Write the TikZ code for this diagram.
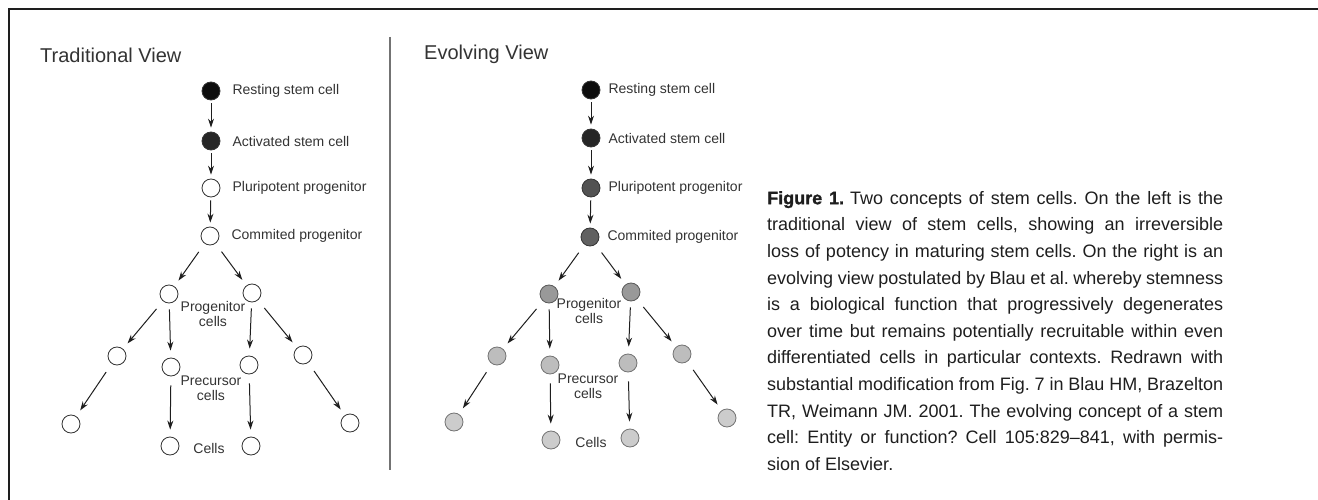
\documentclass[tikz,border=0pt]{standalone}
\usepackage{fontspec}
\setmainfont{Liberation Sans}
\newfontfamily\capbold[FakeBold=1.3]{Liberation Sans}
\usepackage{tikz}
\usetikzlibrary{arrows.meta}
\usetikzlibrary{positioning}
\definecolor{inkgray}{HTML}{333333}
\definecolor{capink}{HTML}{1E1E1E}
\frenchspacing
\newcommand\capspacing{\spaceskip=5pt plus 12pt minus 1.5pt\relax}
\tikzset{
	cellnode/.style = {
		circle,
		inner sep=0pt,
		minimum size=18pt,
		draw=inkgray,
		line width=0.8pt
	},
	node_k/.style = {
		cellnode,
		fill=black!95
	},
	node_d/.style = {
		cellnode,
		fill=black!85
	},
	node_w/.style = {
		cellnode,
		fill=white
	},
	node_g1/.style = {
		cellnode,
		fill=black!68
	},
	node_g2/.style = {
		cellnode,
		fill=black!62
	},
	node_g3/.style = {
		cellnode,
		draw=black!65,
		fill=black!40
	},
	node_g4/.style = {
		cellnode,
		draw=black!55,
		fill=black!26
	},
	node_g5/.style = {
		cellnode,
		draw=black!55,
		fill=black!20
	},
	celltext/.style = {
		inner sep=0pt,
		text=inkgray,
		font=\fontsize{14}{15}\selectfont
	},
	midtext/.style = {
		celltext,
		align=center
	},
	viewtitle/.style = {
		inner sep=0pt,
		anchor=base west,
		text=inkgray,
		font=\fontsize{20}{24}\selectfont
	},
	chainarrow/.style = {
		line width=1pt,
		draw=capink,
		-{Stealth[length=9pt,width=6pt]},
		shorten <=3pt,
		shorten >=4pt
	},
	treearrow/.style = {
		chainarrow,
		shorten <=10pt,
		shorten >=7pt
	},
	captext/.style = {
		inner sep=0pt,
		anchor=north west,
		text width=456pt,
		align=justify,
		text=capink,
		font=\fontsize{18}{26.6}\selectfont
	},
}

\begin{document}
\begin{tikzpicture}[x=1pt, y=-1pt]
\useasboundingbox (0,0) rectangle (1318,500);
% frame and divider
\draw [line width=2.4pt, draw=capink] (1318,9) -- (9,9) -- (9,500);
\draw [line width=1.5pt, draw=black!55] (390,37) -- (390,470);

% traditional view
\node [viewtitle] (l_title) at (40,63) {Traditional View};
\node [node_k] (l_rest) at (211,91) {};
\node [node_d] (l_act) at (211,141) {};
\node [node_w] (l_pluri) at (211,188) {};
\node [node_w] (l_comm) at (210,236) {};
\node [node_w] (l_pa) at (169,294) {};
\node [node_w] (l_pb) at (252,293) {};
\node [node_w] (l_qa) at (117,356) {};
\node [node_w] (l_qb) at (171,367) {};
\node [node_w] (l_qc) at (249,365) {};
\node [node_w] (l_qd) at (303,355) {};
\node [node_w] (l_ca) at (71,424) {};
\node [node_w] (l_cb) at (170,446) {};
\node [node_w] (l_cc) at (251,446) {};
\node [node_w] (l_cd) at (350,423) {};
\node [celltext, right=12pt of l_rest] (l_rest_t) {Resting stem cell};
\node [celltext, right=12pt of l_act] (l_act_t) {Activated stem cell};
\node [celltext, right=12pt of l_pluri] (l_pluri_t) {Pluripotent progenitor};
\node [celltext, right=12pt of l_comm] (l_comm_t) {Commited progenitor};
\node [midtext] (l_prog_t) at (213,314) {Progenitor\\cells};
\node [midtext] (l_prec_t) at (211,388) {Precursor\\cells};
\node [celltext] (l_cells_t) at (209,448) {Cells};
\draw [chainarrow] (l_rest) -- (l_act);
\draw [chainarrow] (l_act) -- (l_pluri);
\draw [chainarrow] (l_pluri) -- (l_comm);
\draw [treearrow] (l_comm) -- (l_pa);
\draw [treearrow] (l_comm) -- (l_pb);
\draw [treearrow] (l_pa) -- (l_qa);
\draw [treearrow, shorten <=6pt] (l_pa) -- (l_qb);
\draw [treearrow, shorten <=6pt] (l_pb) -- (l_qc);
\draw [treearrow] (l_pb) -- (l_qd);
\draw [treearrow] (l_qa) -- (l_ca);
\draw [treearrow, shorten <=9pt] (l_qb) -- (l_cb);
\draw [treearrow, shorten <=9pt] (l_qc) -- (l_cc);
\draw [treearrow] (l_qd) -- (l_cd);

% evolving view
\node [viewtitle] (r_title) at (424,60) {Evolving View};
\node [node_k] (r_rest) at (591,90) {};
\node [node_d] (r_act) at (591,138) {};
\node [node_g1] (r_pluri) at (591,188) {};
\node [node_g2] (r_comm) at (590,237) {};
\node [node_g3] (r_pa) at (549,294) {};
\node [node_g3] (r_pb) at (631,292) {};
\node [node_g4] (r_qa) at (497,356) {};
\node [node_g4] (r_qb) at (550,365) {};
\node [node_g4] (r_qc) at (628,363) {};
\node [node_g4] (r_qd) at (682,354) {};
\node [node_g5] (r_ca) at (454,422) {};
\node [node_g5] (r_cb) at (551,440) {};
\node [node_g5] (r_cc) at (630,438) {};
\node [node_g5] (r_cd) at (727,418) {};
\node [celltext, right=8pt of r_rest] (r_rest_t) {Resting stem cell};
\node [celltext, right=8pt of r_act] (r_act_t) {Activated stem cell};
\node [celltext, right=8pt of r_pluri] (r_pluri_t) {Pluripotent progenitor};
\node [celltext, right=8pt of r_comm] (r_comm_t) {Commited progenitor};
\node [midtext] (r_prog_t) at (589,311) {Progenitor\\cells};
\node [midtext] (r_prec_t) at (588,386) {Precursor\\cells};
\node [celltext] (r_cells_t) at (591,442) {Cells};
\draw [chainarrow] (r_rest) -- (r_act);
\draw [chainarrow] (r_act) -- (r_pluri);
\draw [chainarrow] (r_pluri) -- (r_comm);
\draw [treearrow] (r_comm) -- (r_pa);
\draw [treearrow] (r_comm) -- (r_pb);
\draw [treearrow] (r_pa) -- (r_qa);
\draw [treearrow, shorten <=6pt] (r_pa) -- (r_qb);
\draw [treearrow, shorten <=6pt] (r_pb) -- (r_qc);
\draw [treearrow] (r_pb) -- (r_qd);
\draw [treearrow] (r_qa) -- (r_ca);
\draw [treearrow, shorten <=9pt] (r_qb) -- (r_cb);
\draw [treearrow, shorten <=9pt] (r_qc) -- (r_cc);
\draw [treearrow] (r_qd) -- (r_cd);

% caption
\node [captext] (caption) at (767,191) {\frenchspacing\capspacing{\capbold\bfseries Figure 1.}\hskip 6pt Two concepts of stem cells. On the left is the\linebreak
traditional view of stem cells, showing an irreversible\linebreak
loss of potency in maturing stem cells. On the right is an\linebreak
evolving view postulated by Blau et al. whereby stemness\linebreak
is a biological function that progressively degenerates\linebreak
over time but remains potentially recruitable within even\linebreak
differentiated cells in particular contexts. Redrawn with\linebreak
substantial modification from Fig. 7 in Blau HM, Brazelton\linebreak
TR, Weimann JM. 2001. The evolving concept of a stem\linebreak
cell: Entity or function? Cell 105:829–841, with permis-\linebreak
sion of Elsevier.};
\end{tikzpicture}
\end{document}
